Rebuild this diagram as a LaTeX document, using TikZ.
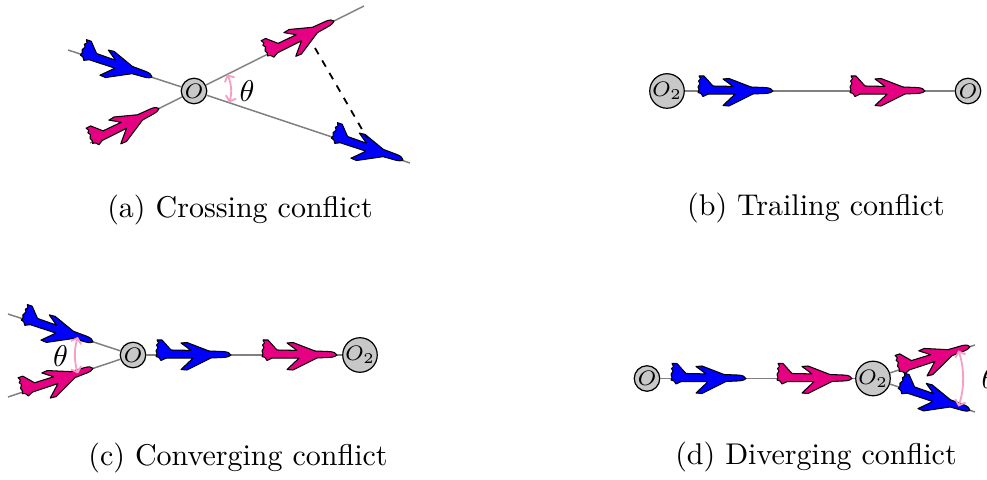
\documentclass[tikz,border=0pt]{standalone}
\usetikzlibrary{arrows.meta,calc}
\definecolor{bluepl}{RGB}{0,0,255}
\definecolor{pinkpl}{RGB}{230,0,130}
\definecolor{arcpink}{RGB}{245,160,195}
\definecolor{trackgray}{RGB}{128,128,128}
\definecolor{nodegray}{RGB}{200,200,200}
\tikzset{
  track/.style={draw=trackgray, line width=0.5pt},
  conode/.style={circle, draw=black, fill=nodegray, line width=0.4pt, inner sep=0pt,
    minimum size=8.5pt, font=\fontsize{7}{8}\selectfont},
  conodetwo/.style={conode, minimum size=11pt},
  thetaarc/.style={draw=arcpink, line width=0.6pt,
    {Straight Barb[length=1.6pt,width=3.6pt]}-{Straight Barb[length=1.6pt,width=3.6pt]}},
  sep/.style={draw=black, line width=0.6pt, dash pattern=on 2.4pt off 2.4pt},
  caption/.style={anchor=base, font=\fontsize{10}{12}\selectfont},
  pics/plane/.style={code={
    \filldraw[fill=#1, draw=black, line width=0.35pt, line join=round]
      (0,0) .. controls (-1,2) and (-3,3) .. (-7,3.4) -- (-22,4) -- (-44,12.5)
      -- (-50,12) -- (-40,4.6) -- (-60,5) -- (-69,15) -- (-74,15)
      -- (-72.5,12) -- (-74.5,10) -- (-73,7.5) -- (-75,4) -- (-74,1) -- (-75,-1.5)
      -- (-72,-2.5) -- (-70,-5.5) -- (-65,-3.2) -- (-38,-3.2) -- (-50,-14.5) -- (-44,-15)
      -- (-20,-3) -- (-7,-2.4) .. controls (-3,-2) and (-1,-1.3) .. (0,0) -- cycle;
  }}
}
\begin{document}
\begin{tikzpicture}[x=0.33333pt, y=0.33333pt]
\useasboundingbox (0,0) rectangle (987,480);

% ---------- (a) crossing ----------
\node[conode] (Oa) at (194,389) {$O$};
\coordinate (aL1s) at (68,430);
\coordinate (aL1e) at (410,317);
\coordinate (aL2s) at (90,337);
\coordinate (aL2e) at (364,474);
\draw[track] (aL1s) -- (Oa) -- (aL1e);
\draw[track] (aL2s) -- (Oa) -- (aL2e);
\pic[rotate=-18.28] (pa1) at (152,402.9) {plane=bluepl};
\pic[rotate=26.57] (pa2) at (159,371.5) {plane=pinkpl};
\pic[rotate=26.57] (pa3) at (334,459) {plane=pinkpl};
\pic[rotate=-18.28] (pa4) at (403,319.9) {plane=bluepl};
\coordinate (ad1) at (315,432);
\coordinate (ad2) at (367,342);
\draw[sep] (ad1) -- (ad2);
\draw[thetaarc] ($(Oa.center)+(-18.28:37)$) arc[start angle=-18.28, end angle=26.57, radius=37];
\node (tha) at (247,389) {$\theta$};
\node[caption] (capa) at (240,262) {(a) Crossing conflict};

% ---------- (b) trailing ----------
\node[conodetwo] (O2b) at (667,389) {$O_2$};
\node[conode] (Ob) at (968,389) {$O$};
\draw[track] (O2b) -- (Ob);
\pic (pb1) at (773,389) {plane=bluepl};
\pic (pb2) at (925,389) {plane=pinkpl};
\node[caption] (capb) at (816,264) {(b) Trailing conflict};

% ---------- (c) converging ----------
\node[conode] (Oc) at (133,125) {$O$};
\node[conodetwo] (O2c) at (360,125) {$O_2$};
\coordinate (cU) at (8,166);
\coordinate (cD) at (8,83);
\draw[track] (cU) -- (Oc);
\draw[track] (cD) -- (Oc);
\draw[track] (Oc) -- (O2c);
\pic[rotate=-18.16] (pc1) at (93,138.1) {plane=bluepl};
\pic[rotate=18.57] (pc2) at (93,111.6) {plane=pinkpl};
\pic (pc3) at (231,125) {plane=bluepl};
\pic (pc4) at (337,125) {plane=pinkpl};
\draw[thetaarc] ($(Oc.center)+(161.84:58)$) arc[start angle=161.84, end angle=198.57, radius=58];
\node (thc) at (60.5,124) {$\theta$};
\node[caption] (capc) at (238,14) {(c) Converging conflict};

% ---------- (d) diverging ----------
\node[conode] (Od) at (647,101.5) {$O$};
\node[conodetwo] (O2d) at (873,101.5) {$O_2$};
\coordinate (dU) at (975,135);
\coordinate (dD) at (975,68);
\draw[track] (Od) -- (O2d);
\draw[track] (O2d) -- (dU);
\draw[track] (O2d) -- (dD);
\pic (pd1) at (746,101.5) {plane=bluepl};
\pic (pd2) at (852,101.5) {plane=pinkpl};
\pic[rotate=18.18] (pd3) at (970,133.4) {plane=pinkpl};
\pic[rotate=-18.18] (pd4) at (970,69.6) {plane=bluepl};
\draw[thetaarc] ($(O2d.center)+(-18.18:90)$) arc[start angle=-18.18, end angle=18.18, radius=90];
\node (thd) at (989,101.5) {$\theta$};
\node[caption] (capd) at (816,15) {(d) Diverging conflict};
\end{tikzpicture}
\end{document}
